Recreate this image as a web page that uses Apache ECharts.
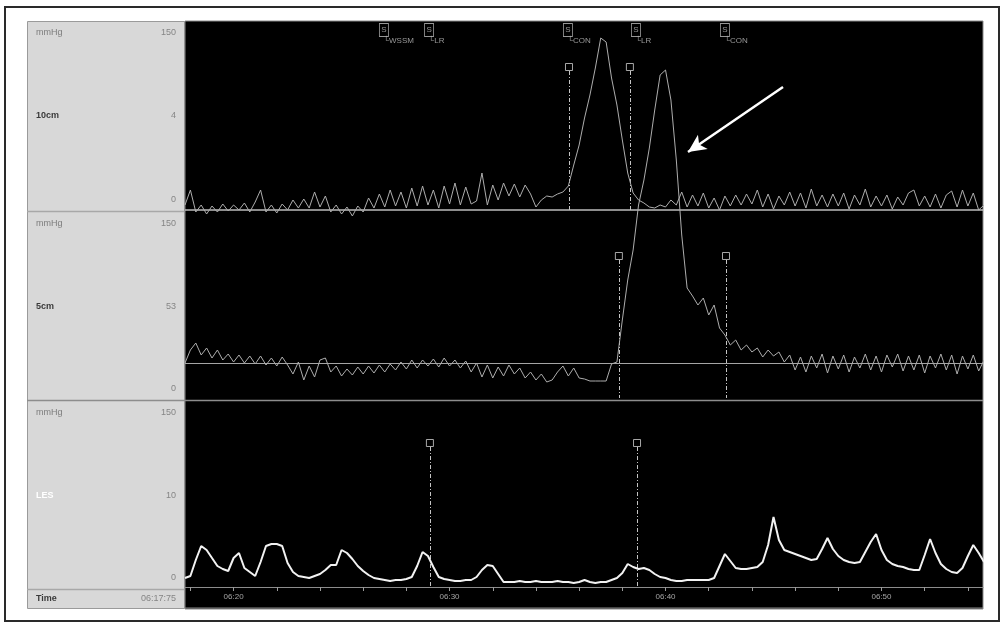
<!DOCTYPE html>
<html><head><meta charset="utf-8">
<script src="https://cdn.jsdelivr.net/npm/echarts@6/dist/echarts.min.js"></script>
<style>html,body{margin:0;padding:0;background:#fff}#c{width:1003px;height:626px}</style>
</head><body><div id="c"></div>
<script>
// time in minutes after 06:00; one sample every DT minutes starting at T0
const T0 = 17.75, DT = 0.25, T_END = 54.7;

// channel pressures (display units, 0 = channel baseline)
const ch10cm = [
 5, 20, -2, 5, -4, 4, -2, 6, -1, 5,
 0, 7, -2, 8, 20, -2, 5, -3, 6, 0,
 10, 2, 11, 2, 18, 3, 14, -2, 5, -4,
 3, -6, 4, -2, 12, 2, 16, 3, 20, 4,
 18, 2, 22, 4, 24, 5, 20, 2, 24, 6,
 27, 5, 23, 6, 9, 37, 5, 25, 10, 27,
 14, 26, 13, 25, 16, 3, 10, 14, 13, 16,
 18, 24, 45, 65, 92, 115, 142, 172, 168, 132,
 105, 70, 37, 17, 10, 7, 3, 2, 5, 3,
 10, 5, 18, 3, 15, 4, 17, 2, 12, 0,
 14, 4, 15, 5, 16, 6, 20, 3, 16, 1,
 14, 5, 18, 4, 17, 2, 21, 4, 15, 3,
 16, 4, 17, 1, 15, 5, 21, 3, 14, 4,
 15, 1, 13, 5, 17, 20, 4, 14, 3, 16,
 2, 15, 19, 3, 20, 4, 17, 0, 5
];
const ch5cm = [
 0, 13, 20, 8, 15, 5, 13, 3, 9, 1,
 8, 0, 7, -1, 7, -2, 5, -3, 6, -2,
 -11, 1, -17, -3, -14, 3, 5, -9, -3, -13,
 -6, -12, -4, -11, -3, -10, -2, -9, -1, -7,
 1, -6, 3, -5, 3, -3, 4, -4, 5, -3,
 3, -5, 2, -9, 0, -14, -2, -15, -4, -13,
 -2, -11, -5, -15, -9, -17, -11, -19, -17, -9,
 -3, -13, -5, -15, -16, -18, -18, -18, -18, -1,
 1, 43, 83, 113, 158, 183, 215, 253, 288, 293,
 263, 203, 128, 75, 67, 58, 65, 48, 58, 35,
 28, 18, 23, 13, 18, 11, 15, 6, 13, 7,
 11, 1, 8, -7, 6, -9, 7, -5, 9, -10,
 7, -6, 8, -9, 6, -5, 9, -7, 7, -9,
 8, -4, 9, -8, 7, -7, 8, -10, 7, -5,
 9, -7, 8, -11, 7, -6, 8, -8, 3
];
const chLES = [
 9, 11, 27, 41, 37, 29, 21, 18, 16, 29,
 34, 19, 15, 11, 25, 41, 43, 43, 41, 24,
 15, 11, 10, 9, 11, 13, 17, 22, 22, 37,
 34, 28, 21, 16, 12, 9, 8, 7, 6, 7,
 7, 8, 10, 21, 35, 31, 20, 10, 8, 7,
 6, 6, 7, 7, 10, 17, 22, 21, 13, 5,
 5, 5, 6, 5, 5, 6, 5, 5, 5, 6,
 5, 5, 4, 5, 7, 5, 4, 5, 5, 7,
 9, 14, 23, 20, 18, 19, 17, 13, 10, 9,
 7, 6, 6, 7, 7, 7, 7, 7, 9, 21,
 33, 26, 19, 18, 18, 19, 20, 25, 42, 70,
 47, 37, 35, 33, 31, 29, 27, 28, 38, 49,
 38, 31, 27, 25, 24, 25, 35, 45, 53, 37,
 27, 23, 21, 20, 18, 17, 17, 32, 48, 34,
 23, 18, 15, 14, 19, 31, 42, 34, 25
];

// annotations
const eventTimes  = [26.96, 29.05, 35.48, 38.63, 42.75];
const eventNames  = ['WSSM', 'LR', 'CON', 'LR', 'CON'];
const marks10cm   = [35.53, 38.35];
const marks5cm    = [37.84, 42.80];
const marksLES    = [29.09, 38.68];
const arrowFrom   = [45.44, 123];
const arrowTo     = [41.04, 58];

// axis ticks / labels
const timeTicks  = [18, 20, 22, 24, 26, 28, 30, 32, 34, 36, 38, 40, 42, 44, 46, 48, 50, 52, 54];
const timeLabels = [20, 30, 40, 50];
const channelNames = ['10cm', '5cm', 'LES'];
const channelMid   = ['4', '53', '10'];
const unitLabel = 'mmHg', topLabel = '150', zeroLabel = '0';
const timeTitle = 'Time', startTime = '06:17:75';

const pairs = arr => arr.map((v, i) => [T0 + i * DT, v]);

const FONT = 'Liberation Sans';
const cells = [[21, 211], [212, 400], [401, 589]];
const graphic = [
  {type: 'rect', z: -20, shape: {x: 5, y: 7, width: 994, height: 614}, style: {fill: '#fff', stroke: '#2a2a2a', lineWidth: 2}},
  {type: 'rect', z: -19, shape: {x: 27.5, y: 21.5, width: 157, height: 587}, style: {fill: '#d8d8d8', stroke: '#9a9a9a', lineWidth: 1}},
  {type: 'rect', z: -19, shape: {x: 185, y: 21, width: 798, height: 588}, style: {fill: '#000', stroke: '#8a8a8a', lineWidth: 1}},
  {type: 'line', z: -18, shape: {x1: 27, y1: 211.5, x2: 184, y2: 211.5}, style: {stroke: '#a8a8a8', lineWidth: 1.5}},
  {type: 'line', z: -18, shape: {x1: 27, y1: 400.5, x2: 983, y2: 400.5}, style: {stroke: '#8d8d8d', lineWidth: 1.5}},
  {type: 'line', z: -18, shape: {x1: 27, y1: 589.5, x2: 184, y2: 589.5}, style: {stroke: '#a8a8a8', lineWidth: 1.5}},
  {type: 'line', z: -18, shape: {x1: 185, y1: 608, x2: 983, y2: 608}, style: {stroke: '#8a8a8a', lineWidth: 1}}
];
cells.forEach(([t, b], k) => {
  const txt = (x, y, s, color, weight, align) => graphic.push({type: 'text', z: 5, x, y,
    style: {text: s, fill: color, font: (weight || 'normal') + ' 9px "' + FONT + '"', align: align || 'left', verticalAlign: 'middle'}});
  txt(36, t + 12, unitLabel, '#7c7c7c');
  txt(176, t + 12, topLabel, '#858585', 'normal', 'right');
  txt(36, t + 95, channelNames[k], k === 2 ? '#ffffff' : '#3a3a3a', 'bold');
  txt(176, t + 95, channelMid[k], '#858585', 'normal', 'right');
  txt(176, b - 11, zeroLabel, '#858585', 'normal', 'right');
});
graphic.push({type: 'text', z: 5, x: 36, y: 599, style: {text: timeTitle, fill: '#3a3a3a', font: 'bold 9px "' + FONT + '"', verticalAlign: 'middle'}});
graphic.push({type: 'text', z: 5, x: 176, y: 599, style: {text: startTime, fill: '#858585', font: '9px "' + FONT + '"', align: 'right', verticalAlign: 'middle'}});

const hiddenX = i => ({gridIndex: i, type: 'value', min: T0, max: T_END, show: false});
const hiddenY = (i, mn, mx) => ({gridIndex: i, type: 'value', min: mn, max: mx, show: false});
const gridBase = {left: 185, width: 798, containLabel: false, outerBoundsMode: 'none', show: false};

const markerSeries = (gi, times, topVal, botVal) => ({
  type: 'scatter', xAxisIndex: gi, yAxisIndex: gi, z: 12, silent: true,
  data: times.map(t => [t, topVal]), symbol: 'rect', symbolSize: 7,
  itemStyle: {color: '#000', borderColor: '#cfcfcf', borderWidth: 1},
  markLine: {silent: true, symbol: 'none', label: {show: false}, animation: false,
    lineStyle: {color: '#c4c4c4', width: 1, type: [4, 2, 1, 2]},
    data: times.map(t => [{coord: [t, topVal - 4]}, {coord: [t, botVal]}])}
});

const option = {
  animation: false,
  backgroundColor: '#fff',
  graphic: graphic,
  grid: [
    Object.assign({top: 20, height: 200}, gridBase),
    Object.assign({top: 20, height: 378}, gridBase),
    Object.assign({top: 402, height: 185}, gridBase)
  ],
  xAxis: [hiddenX(0), hiddenX(1), {
    gridIndex: 2, type: 'value', min: T0, max: T_END,
    axisLine: {show: true, lineStyle: {color: '#8c8c8c', width: 1}},
    axisTick: {show: true, customValues: timeTicks, length: 4, lineStyle: {color: '#9c9c9c'}},
    axisLabel: {show: true, customValues: timeLabels, formatter: v => '06:' + v, fontSize: 8, color: '#a5a5a5', margin: 6, fontFamily: FONT},
    splitLine: {show: false}
  }],
  yAxis: [hiddenY(0, -10, 190), hiddenY(1, -35, 343), hiddenY(2, 0, 185)],
  series: [
    {type: 'line', name: '10cm', xAxisIndex: 0, yAxisIndex: 0, z: 10, data: pairs(ch10cm), showSymbol: false,
     lineStyle: {color: '#adadad', width: 1},
     markLine: {silent: true, symbol: 'none', label: {show: false}, lineStyle: {color: '#bdbdbd', width: 1.5, type: 'solid'}, data: [{yAxis: 0}]}},
    {type: 'line', name: '5cm', xAxisIndex: 1, yAxisIndex: 1, z: 10, data: pairs(ch5cm), showSymbol: false,
     lineStyle: {color: '#adadad', width: 1},
     markLine: {silent: true, symbol: 'none', label: {show: false}, lineStyle: {color: '#a5a5a5', width: 1.2, type: 'solid'}, data: [{yAxis: 0}]}},
    {type: 'line', name: 'LES', xAxisIndex: 2, yAxisIndex: 2, z: 10, data: pairs(chLES), showSymbol: false,
     lineStyle: {color: '#f2f2f2', width: 2}},
    markerSeries(0, marks10cm, 143, 0),
    markerSeries(1, marks5cm, 107, -35),
    markerSeries(2, marksLES, 144, 0),
    {type: 'scatter', xAxisIndex: 0, yAxisIndex: 0, z: 12, silent: true,
     data: eventTimes.map(t => [t, 180]), symbol: 'rect', symbolSize: [9, 13],
     itemStyle: {color: '#000', borderColor: '#bdbdbd', borderWidth: 1},
     label: {show: true, position: 'inside', formatter: 'S', fontSize: 8, color: '#bdbdbd', fontFamily: FONT},
     markLine: {silent: true, label: {show: false}, animation: false,
       data: [[{coord: arrowFrom, symbol: 'none'}, {coord: arrowTo, symbol: 'arrow', symbolSize: [13, 18]}]],
       lineStyle: {color: '#ffffff', width: 2.5, type: 'solid'}}},
    {type: 'scatter', xAxisIndex: 0, yAxisIndex: 0, z: 12, silent: true,
     data: eventTimes.map((t, i) => ({value: [t, 180], name: eventNames[i]})), symbolSize: 1,
     itemStyle: {color: 'rgba(0,0,0,0)'},
     label: {show: true, position: [0, 7], formatter: p => '\u2514' + p.name, fontSize: 8, color: '#bdbdbd', fontFamily: FONT}}
  ]
};
const chart = echarts.init(document.getElementById('c'), null, {renderer: 'canvas'});
chart.setOption(option);
</script></body></html>
